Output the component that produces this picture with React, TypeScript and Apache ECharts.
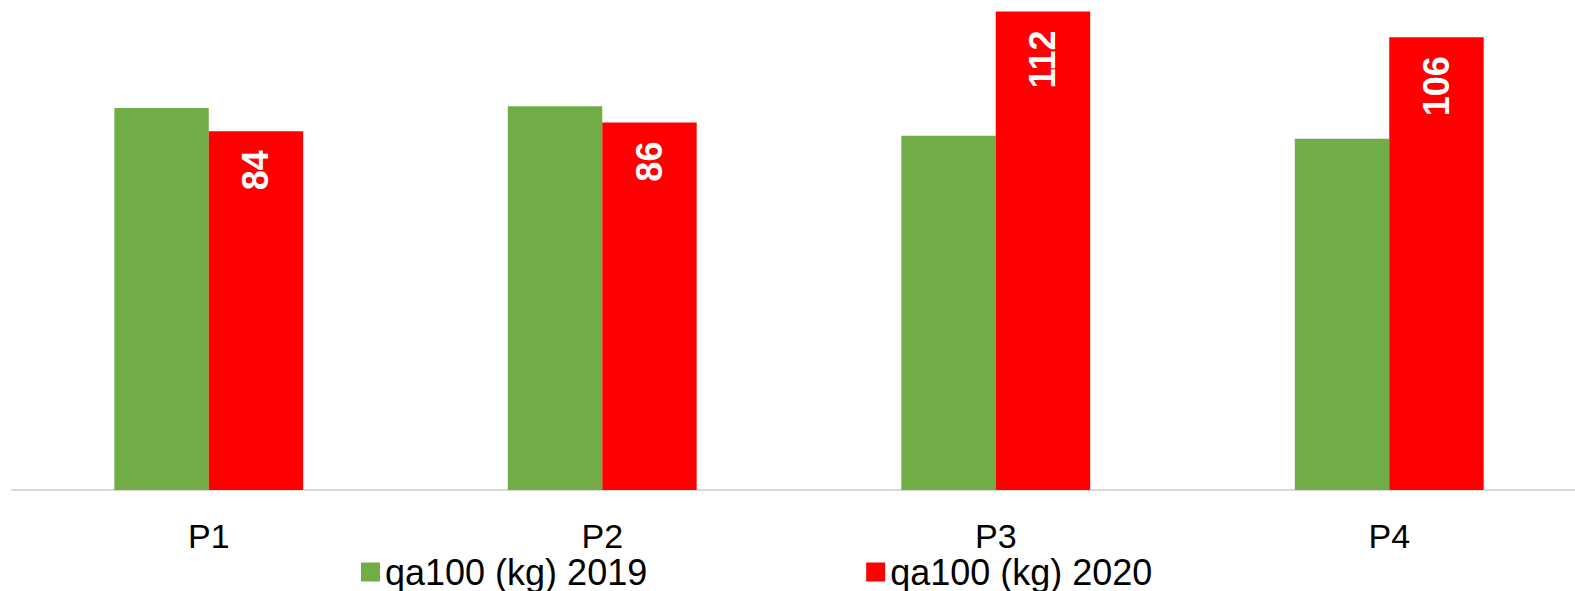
import React, { useEffect, useRef } from "react";
import * as echarts from "echarts";

const categories = ["P1", "P2", "P3", "P4"];
const seriesNames = ["qa100 (kg) 2019", "qa100 (kg) 2020"];
const values2019 = [89.4, 89.8, 82.9, 82.2];
const values2020 = [84, 86, 112, 106];

const FONT = "'Liberation Sans', Arial, Helvetica, sans-serif";

export default function App() {
  const ref = useRef<HTMLDivElement>(null);
  useEffect(() => {
    if (!ref.current) return;
    const chart = echarts.init(ref.current, null, { renderer: "svg" });
    chart.setOption({
      animation: false,
      backgroundColor: "#ffffff",
      textStyle: { fontFamily: FONT },
      grid: { left: 12, right: 0, top: 11.5, bottom: 101, containLabel: false },
      legend: {
        left: 356,
        top: 549,
        itemWidth: 19,
        itemHeight: 19,
        itemGap: 219,
        icon: "rect",
        textStyle: { fontSize: 36, color: "#000", fontFamily: FONT },
        data: seriesNames,
      },
      xAxis: {
        type: "category",
        data: categories,
        axisTick: { show: false },
        axisLine: { lineStyle: { color: "#d9d9d9", width: 2 } },
        axisLabel: { fontSize: 34, color: "#000", margin: 29, fontFamily: FONT },
      },
      yAxis: {
        type: "value",
        min: 0,
        max: 112,
        show: false,
        splitLine: { show: false },
      },
      series: [
        {
          name: seriesNames[0],
          type: "bar",
          data: values2019,
          barWidth: "24%",
          barGap: "0%",
          itemStyle: { color: "#70AD47" },
        },
        {
          name: seriesNames[1],
          type: "bar",
          data: values2020,
          barWidth: "24%",
          itemStyle: { color: "#FF0000" },
          label: {
            show: true,
            position: "insideTop",
            rotate: 90,
            align: "right",
            verticalAlign: "middle",
            distance: 19,
            color: "#ffffff",
            fontWeight: "bold",
            fontSize: 36,
            fontFamily: FONT,
          },
        },
      ],
    });
    return () => chart.dispose();
  }, []);
  return (
    <div
      style={{
        position: "fixed",
        left: 0,
        top: 0,
        width: 1575,
        height: 591,
        overflow: "hidden",
        background: "#fff",
      }}
    >
      <div ref={ref} style={{ width: 1586, height: 591 }} />
    </div>
  );
}
